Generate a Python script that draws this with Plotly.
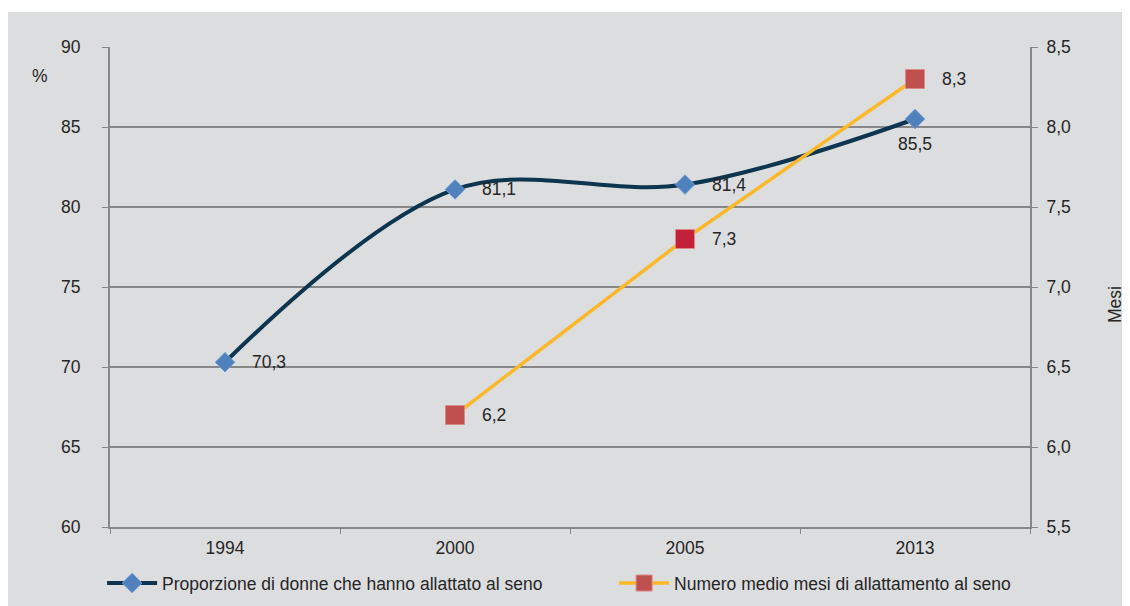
import plotly.graph_objects as go

# Data
anni = ["1994", "2000", "2005", "2013"]
proporzione = [70.3, 81.1, 81.4, 85.5]
mesi = [None, 6.2, 7.3, 8.3]

nome_proporzione = "Proporzione di donne che hanno allattato al seno"
nome_mesi = "Numero medio mesi di allattamento al seno"

FONT = "Liberation Sans, Arial, sans-serif"
FS = 17.5
BG = "#dcdddf"
GRID = "#878787"
TXT = "#262626"

fig = go.Figure()

fig.add_trace(go.Scatter(
    x=anni, y=proporzione,
    mode="lines+markers",
    name=nome_proporzione,
    line=dict(color="#0d3550", width=4, shape="spline", smoothing=1.0),
    marker=dict(symbol="diamond", size=15, color="#4f81bd",
                line=dict(color="#6d9bd3", width=1)),
))

fig.add_trace(go.Scatter(
    x=anni, y=mesi,
    mode="lines+markers",
    name=nome_mesi,
    yaxis="y2",
    line=dict(color="#fbb829", width=3.5),
    marker=dict(symbol="square", size=19,
                color=["#c0504d", "#c0504d", "#c3203a", "#c0504d"],
                line=dict(color="#d98987", width=1)),
    connectgaps=False,
))

# data labels (x given as category index, since "1994" looks numeric)
for i, v in enumerate(proporzione):
    txt = f"{v:.1f}".replace(".", ",")
    if i == 3:
        fig.add_annotation(x=i, y=v, text=txt, showarrow=False,
                           xanchor="center", yanchor="middle", yshift=-25,
                           font=dict(family=FONT, size=FS, color=TXT))
    else:
        fig.add_annotation(x=i, y=v, text=txt, showarrow=False,
                           xanchor="left", yanchor="middle", xshift=25,
                           font=dict(family=FONT, size=FS, color=TXT))

for i, v in enumerate(mesi):
    if v is None:
        continue
    txt = f"{v:.1f}".replace(".", ",")
    fig.add_annotation(x=i, y=v, yref="y2", text=txt, showarrow=False,
                       xanchor="left", yanchor="middle", xshift=25,
                       font=dict(family=FONT, size=FS, color=TXT))

# axis labels
fig.add_annotation(x=-0.0761, y=0.9396, xref="paper", yref="paper", text="%",
                   xanchor="center", yanchor="middle", showarrow=False,
                   font=dict(family=FONT, size=FS, color=TXT))
fig.add_annotation(x=1.0924, y=0.4625, xref="paper", yref="paper", text="Mesi",
                   xanchor="center", yanchor="middle",
                   textangle=-90, showarrow=False,
                   font=dict(family=FONT, size=FS, color=TXT))

# white strip at the top
fig.add_shape(type="rect", xref="paper", yref="paper",
              x0=-0.2, x1=1.2, y0=1.073, y1=1.2,
              fillcolor="white", line=dict(width=0), layer="above")

fig.update_layout(
    width=1122, height=598,
    margin=dict(l=102, r=100, t=39, b=79, autoexpand=False),
    paper_bgcolor=BG, plot_bgcolor=BG,
    separators=",.",
    font=dict(family=FONT, size=FS, color=TXT),
    showlegend=True,
    legend=dict(orientation="h", x=-0.0086, xanchor="left", y=-0.117,
                yanchor="middle", bgcolor="rgba(0,0,0,0)",
                itemwidth=50, entrywidth=447,
                font=dict(family=FONT, size=FS, color=TXT)),
    xaxis=dict(type="category", range=[-0.5, 3.5], tickson="boundaries",
               ticks="outside", ticklen=5, tickcolor=GRID,
               showline=True, linecolor=GRID, linewidth=2,
               showgrid=False, zeroline=False, ticklabelstandoff=4,
               tickfont=dict(family=FONT, size=FS, color=TXT)),
    yaxis=dict(range=[60, 90], dtick=5, tick0=60,
               ticks="outside", ticklen=6, tickcolor=GRID,
               showline=True, linecolor=GRID, linewidth=2,
               showgrid=True, gridcolor=GRID, gridwidth=1.5,
               zeroline=False, ticklabelstandoff=18,
               tickfont=dict(family=FONT, size=FS, color=TXT)),
    yaxis2=dict(range=[5.5, 8.5], dtick=0.5, tick0=5.5, tickformat=".1f",
                overlaying="y", side="right",
                ticks="outside", ticklen=6, tickcolor=GRID,
                showline=True, linecolor=GRID, linewidth=2,
                showgrid=False, zeroline=False, ticklabelstandoff=5,
                tickfont=dict(family=FONT, size=FS, color=TXT)),
)

fig.write_html("out.html")
